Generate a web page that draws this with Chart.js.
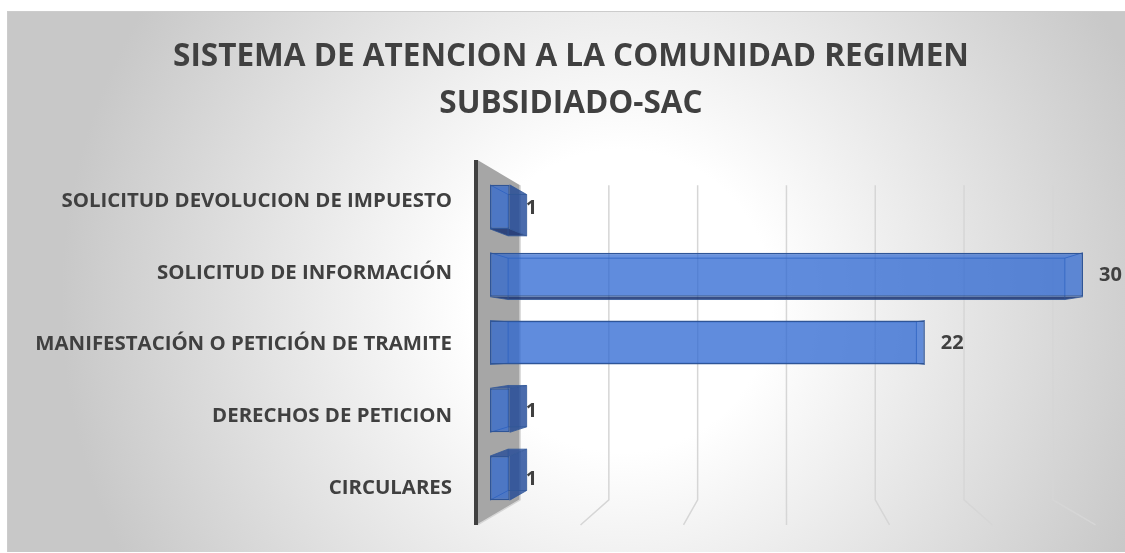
<!DOCTYPE html>
<html><head><meta charset="utf-8">
<script src="https://cdn.jsdelivr.net/npm/chart.js@4.4.1/dist/chart.umd.min.js"></script>
<style>
html,body{margin:0;padding:0;width:1125px;height:553px;overflow:hidden;background:#ffffff;}
#bg{position:absolute;left:7px;top:11px;width:1130px;height:541px;box-sizing:border-box;border-top:1px solid #cccccc;border-left:1px solid #cccccc;
background:radial-gradient(circle 560px at 613px 289px,#ffffff 27%,#c8c8c8 100%);}
#wrap{position:absolute;left:0;top:0;width:1125px;height:553px;}
</style></head><body>
<div id="bg"></div>
<div id="wrap"><canvas id="c"></canvas></div>
<script>
// ---- data ----
const TITLE = ['SISTEMA DE ATENCION A LA COMUNIDAD REGIMEN', 'SUBSIDIADO-SAC'];
const CATEGORIES = ['SOLICITUD DEVOLUCION DE IMPUESTO', 'SOLICITUD DE INFORMACIÓN', 'MANIFESTACIÓN O PETICIÓN DE TRAMITE', 'DERECHOS DE PETICION', 'CIRCULARES'];
const VALUES = [1, 30, 22, 1, 1];
const X_MAX = 30;
const X_STEP = 5;

// ---- 3D look (style only) ----
const FONT = 'Open Sans';
const TEXT = '#404040';
const VP = {x: 786, y: 342.5};
const S = {wallFront: 1.16, barFront: 1.113, barBack: 1.045, wallBack: 1};
const WALL_EXT = 5;
function proj(p, from, to) { const r = to / from; return {x: VP.x + (p.x - VP.x) * r, y: VP.y + (p.y - VP.y) * r}; }
function poly(ctx, pts) { ctx.beginPath(); ctx.moveTo(pts[0].x, pts[0].y); for (let i = 1; i < pts.length; i++) ctx.lineTo(pts[i].x, pts[i].y); ctx.closePath(); }

const depth3d = {
  id: 'depth3d',
  beforeDatasetsDraw(chart) {
    const ctx = chart.ctx, xs = chart.scales.x, area = chart.chartArea;
    ctx.save();
    const x0 = xs.getPixelForValue(0);
    const bTop = proj({x: x0, y: area.top}, S.barFront, S.wallBack); bTop.y -= WALL_EXT;
    const bBot = proj({x: x0, y: area.bottom}, S.barFront, S.wallBack); bBot.y += WALL_EXT;
    const fTop = proj(bTop, 1, S.wallFront), fBot = proj(bBot, 1, S.wallFront);
    // side wall
    poly(ctx, [fTop, bTop, bBot, fBot]);
    ctx.fillStyle = '#a6a6a6'; ctx.fill();
    // gridlines on back wall + floor
    ctx.strokeStyle = '#d6d6d6'; ctx.lineWidth = 1.5;
    xs.ticks.forEach(t => {
      const xb = proj({x: xs.getPixelForValue(t.value), y: VP.y}, S.barFront, 1).x;
      const fl = proj({x: xb, y: bBot.y}, 1, S.wallFront);
      ctx.beginPath(); ctx.moveTo(xb, bTop.y); ctx.lineTo(xb, bBot.y); ctx.lineTo(fl.x, fl.y); ctx.stroke();
    });
    // wall front edge
    ctx.strokeStyle = '#404040'; ctx.lineWidth = 4;
    ctx.beginPath(); ctx.moveTo(fTop.x - 1.5, fTop.y); ctx.lineTo(fBot.x - 1.5, fBot.y); ctx.stroke();
    // bar depth faces
    const meta = chart.getDatasetMeta(0);
    meta.data.forEach(el => {
      const {x, y, base, height} = el.getProps(['x', 'y', 'base', 'height'], true);
      const f = [{x: base, y: y - height / 2}, {x: x, y: y - height / 2}, {x: x, y: y + height / 2}, {x: base, y: y + height / 2}];
      const b = f.map(p => proj(p, S.barFront, S.barBack));
      poly(ctx, b); ctx.fillStyle = 'rgba(40,100,210,0.12)'; ctx.fill();
      if (b[1].x > f[1].x) { poly(ctx, [f[1], b[1], b[2], f[2]]); ctx.fillStyle = 'rgba(30,70,150,0.78)'; ctx.fill(); }
      if (b[2].y > f[2].y) { poly(ctx, [f[3], f[2], b[2], b[3]]); ctx.fillStyle = 'rgba(25,50,115,0.85)'; ctx.fill(); }
      if (b[0].y < f[0].y) { poly(ctx, [f[0], f[1], b[1], b[0]]); ctx.fillStyle = 'rgba(30,70,150,0.75)'; ctx.fill(); }
      ctx.strokeStyle = 'rgba(47,85,151,0.75)'; ctx.lineWidth = 1;
      poly(ctx, b); ctx.stroke();
      for (let i = 0; i < 4; i++) { ctx.beginPath(); ctx.moveTo(f[i].x, f[i].y); ctx.lineTo(b[i].x, b[i].y); ctx.stroke(); }
    });
    ctx.restore();
  },
  afterDatasetsDraw(chart) {
    const ctx = chart.ctx;
    const meta = chart.getDatasetMeta(0);
    ctx.save();
    ctx.font = 'bold 20px "' + FONT + '"';
    ctx.fillStyle = TEXT; ctx.textAlign = 'left'; ctx.textBaseline = 'middle';
    meta.data.forEach((el, i) => {
      const {x, y} = el.getProps(['x', 'y'], true);
      ctx.fillText(String(VALUES[i]), x + 16, y + 1);
    });
    ctx.restore();
  }
};

new Chart(document.getElementById('c'), {
  type: 'bar',
  data: {
    labels: CATEGORIES,
    datasets: [{
      data: VALUES,
      backgroundColor: 'rgba(40,100,210,0.7)',
      borderColor: '#2f5597',
      borderWidth: 1.5,
      borderSkipped: false,
      barPercentage: 0.65,
      categoryPercentage: 1,
      xAxisID: 'x', yAxisID: 'y'
    }]
  },
  options: {
    indexAxis: 'y',
    responsive: true,
    maintainAspectRatio: false,
    animation: false,
    layout: {padding: {top: 10, left: 17, right: 0, bottom: 41}},
    plugins: {
      legend: {display: false},
      tooltip: {enabled: false},
      title: {
        display: true, text: TITLE, color: TEXT,
        font: {family: FONT, size: 31.5, weight: 'bold', lineHeight: '47px'},
        padding: {top: 23.5, bottom: 45.5}
      }
    },
    scales: {
      x: {
        type: 'linear', min: 0, max: X_MAX, display: true,
        ticks: {display: false, stepSize: X_STEP},
        grid: {display: false, drawTicks: false}, border: {display: false},
        afterFit: s => { s.height = 0; }
      },
      y: {type: 'category', display: false},
      yL: {
        type: 'linear', position: 'left', reverse: true, offset: false, bounds: 'data', min: -0.3902, max: 4.3345,
        grid: {display: false, drawTicks: true, tickLength: 38, offset: false}, border: {display: false},
        afterBuildTicks: s => { s.ticks = CATEGORIES.map((_, i) => ({value: i})); },
        afterDataLimits: s => { s.min = -0.3902; s.max = 4.3345; },
        afterFit: s => { s.width = 473; },
        ticks: {autoSkip: false, padding: 0, color: TEXT, font: {family: FONT, size: 20.4, weight: 'bold'}, callback: v => CATEGORIES[v]}
      },
      yR: {
        type: 'category', position: 'right', display: true,
        grid: {display: false, drawTicks: false}, border: {display: false},
        ticks: {display: false},
        afterFit: s => { s.width = 42; }
      }
    }
  },
  plugins: [depth3d]
});
</script>
</body></html>
